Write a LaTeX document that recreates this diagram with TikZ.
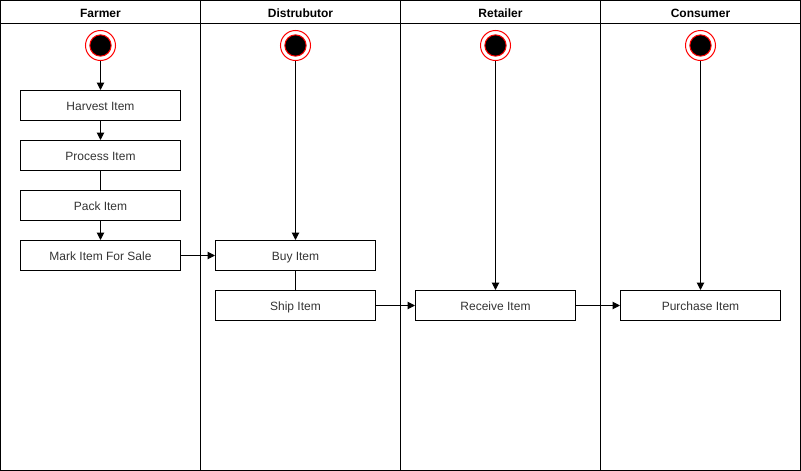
\documentclass[tikz,border=0pt]{standalone}
\usepackage{fontspec}
\setmainfont{Liberation Sans}
\usetikzlibrary{arrows.meta}
\begin{document}
\begin{tikzpicture}[x=.75pt,y=-.75pt,font=\fontsize{9}{11}\selectfont,
	act/.style={draw,line width=.75pt,minimum width=120pt,minimum height=22.5pt,inner sep=0pt,
		text height=7.2pt,text depth=0pt,text=black!80},
	flow/.style={line width=.75pt,-{Triangle[length=5.5pt,width=5.5pt]}},
	lane/.style={font=\fontsize{9}{11}\selectfont\bfseries,text height=7pt,text depth=0pt}]
	\useasboundingbox (0,0) rectangle (801,471);
	% lanes
	\draw[line width=.75pt] (.5,.5) rectangle (800.5,470.5) (.5,23.5)--(800.5,23.5);
	\foreach \x in {200,400,600}{
		\draw[line width=.75pt] (\x.5,.5)--(\x.5,470.5);
	}
	\foreach \t/\x in {Farmer/100,Distrubutor/300,Retailer/500,Consumer/700}{
		\node[lane] (h\t) at (\x.5,12.5) {\t};
	}
	% start points
	\foreach \n/\x in {sF/100,sD/295,sR/495,sC/700}{
		\node[circle,draw=red,line width=.75pt,minimum size=22.5pt,inner sep=0pt] (\n) at (\x.5,45.5) {};
		\node[circle,fill=black,draw=red,line width=.75pt,minimum size=16pt,inner sep=0pt] at (\n) {};
	}
	% activities
	\node[act] (harvest) at (100.5,105.5) {Harvest Item};
	\node[act] (process) at (100.5,155.5) {Process Item};
	\node[act] (pack) at (100.5,205.5) {Pack Item};
	\node[act] (mark) at (100.5,255.5) {Mark Item For Sale};
	\node[act] (buy) at (295.5,255.5) {Buy Item};
	\node[act] (ship) at (295.5,305.5) {Ship Item};
	\node[act] (receive) at (495.5,305.5) {Receive Item};
	\node[act] (purchase) at (700.5,305.5) {Purchase Item};
	% connectors
	\draw[flow] (sF)--(harvest);
	\draw[flow] (harvest)--(process);
	\draw[line width=.75pt] (process)--(pack);
	\draw[flow] (pack)--(mark);
	\draw[flow] (mark)--(buy);
	\draw[flow] (sD)--(buy);
	\draw[line width=.75pt] (buy)--(ship);
	\draw[flow] (ship)--(receive);
	\draw[flow] (sR)--(receive);
	\draw[flow] (receive)--(purchase);
	\draw[flow] (sC)--(purchase);
\end{tikzpicture}
\end{document}
